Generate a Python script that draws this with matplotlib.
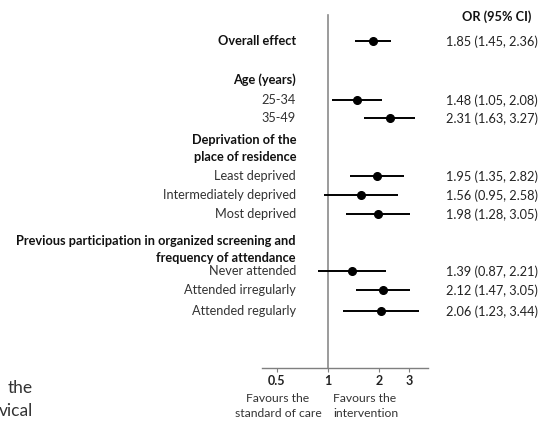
import matplotlib
matplotlib.use("Agg")
import matplotlib.pyplot as plt
from matplotlib.transforms import blended_transform_factory

plt.rcParams['font.family'] = ['Lato', 'DejaVu Sans']

# ---- data ----
row_labels = ["Overall effect", "Age (years)", "25-34", "35-49",
              "Deprivation of the\nplace of residence", "Least deprived",
              "Intermediately deprived", "Most deprived",
              "Previous participation in organized screening and\nfrequency of attendance",
              "Never attended", "Attended irregularly", "Attended regularly"]
is_header = [True, True, False, False, True, False, False, False, True, False, False, False]
or_vals = [1.85, None, 1.48, 2.31, None, 1.95, 1.56, 1.98, None, 1.39, 2.12, 2.06]
ci_low = [1.45, None, 1.05, 1.63, None, 1.35, 0.95, 1.28, None, 0.87, 1.47, 1.23]
ci_high = [2.36, None, 2.08, 3.27, None, 2.82, 2.58, 3.05, None, 2.21, 3.05, 3.44]
tick_vals = [0.5, 1, 2, 3]
tick_labels = ["0.5", "1", "2", "3"]

# ---- layout (pixel rows) ----
W, H = 544, 423
row_y = [41, 80, 100, 118, 148, 176, 195, 214, 249, 271, 290, 311]

fig = plt.figure(figsize=(W/100, H/100), dpi=100)
ax = fig.add_axes([262/W, (H-368)/H, 166/W, 368/H])
ax.set_xscale('log')
ax.set_xlim(0.408, 3.89)
ax.set_ylim(368, 0)
for s in ['top', 'right', 'left']:
    ax.spines[s].set_visible(False)
ax.spines['bottom'].set_color('#7f7f7f')
ax.spines['bottom'].set_linewidth(1.0)
ax.set_yticks([])
ax.set_xticks(tick_vals)
ax.set_xticklabels(tick_labels, fontsize=9, fontweight='bold', color='#222222')
ax.xaxis.set_minor_locator(matplotlib.ticker.NullLocator())
ax.tick_params(axis='x', length=3, width=0.8, color='#7f7f7f', pad=2)
ax.patch.set_alpha(0)

ax.plot([1, 1], [15, 368], color='#8a8a8a', lw=1.2, zorder=1)

for i in range(len(row_labels)):
    if or_vals[i] is None:
        continue
    y = row_y[i]
    ax.plot([ci_low[i], ci_high[i]], [y, y], color='black', lw=1.4, zorder=2, solid_capstyle='butt')
    ax.plot([or_vals[i]], [y], 'o', color='black', ms=5.5, zorder=3)

tr = blended_transform_factory(fig.transFigure, ax.transData)
for i, lab in enumerate(row_labels):
    ax.text(296/W, row_y[i], lab, transform=tr, ha='right', va='center',
            fontsize=9.2, fontweight='bold' if is_header[i] else 'normal',
            color='#111111' if is_header[i] else '#333333', clip_on=False,
            linespacing=1.5)
    if or_vals[i] is not None:
        ax.text(446/W, row_y[i] + 1, f"{or_vals[i]:.2f} ({ci_low[i]:.2f}, {ci_high[i]:.2f})",
                transform=tr, ha='left', va='center', fontsize=9.2, color='#222222', clip_on=False)

ax.text(497/W, 17, "OR (95% CI)", transform=tr, ha='center', va='center',
        fontsize=9.2, fontweight='bold', color='#111111', clip_on=False)

fig.text(278/W, 1 - 406/H, "Favours the\nstandard of care", ha='center', va='center',
         fontsize=8.7, color='#333333', linespacing=1.45)
fig.text(333/W, 1 - 406/H, "Favours the\nintervention", ha='left', va='center',
         fontsize=8.7, color='#333333', linespacing=1.45)

fig.text(33/W, 1 - 388/H, "the", ha='right', va='center', fontsize=12.5, color='#333333')
fig.text(33/W, 1 - 411/H, "vical", ha='right', va='center', fontsize=12.5, color='#333333')

fig.savefig("out.png", dpi=100)
